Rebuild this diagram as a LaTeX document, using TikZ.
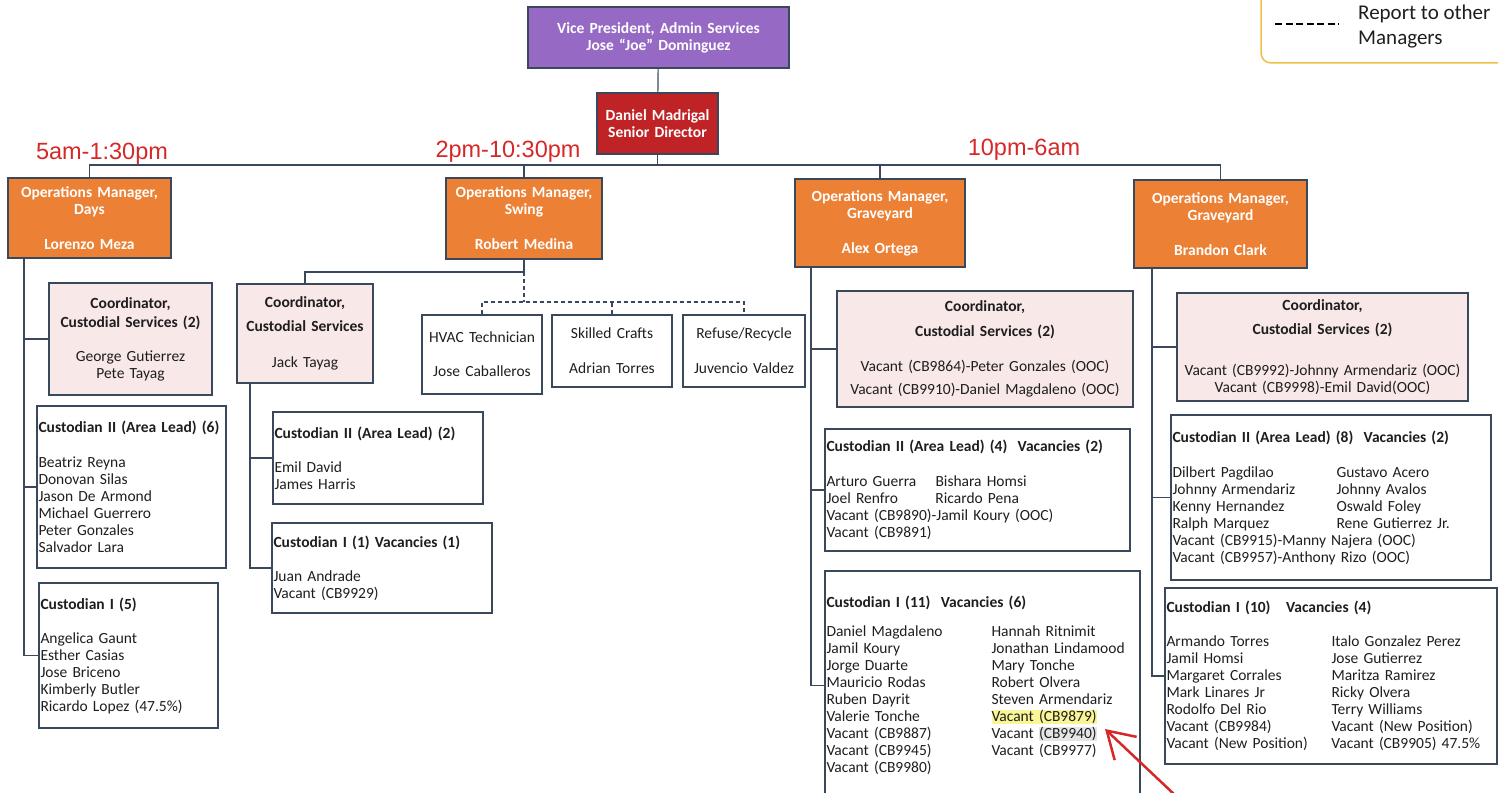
\documentclass[tikz,border=0pt]{standalone}
\usepackage{fontspec}
\setmainfont{Carlito}
\newfontfamily\shiftfont{Liberation Sans}
\usetikzlibrary{arrows.meta}
\definecolor{vpfill}{RGB}{150,106,196}
\definecolor{sdfill}{RGB}{192,35,38}
\definecolor{opsfill}{RGB}{236,128,52}
\definecolor{coordfill}{RGB}{249,232,232}
\definecolor{boxline}{RGB}{58,72,92}
\definecolor{shiftred}{RGB}{214,40,40}
\definecolor{legendline}{RGB}{240,190,70}
\definecolor{ink}{RGB}{30,30,30}
\definecolor{hlyellow}{RGB}{250,245,150}
\setlength{\fboxsep}{0pt}
\newcommand{\twocol}[3]{\makebox[#1][l]{#2}#3}
\begin{document}
\begin{tikzpicture}[x=1pt,y=-1pt,
    box/.style={draw=boxline,line width=1.2pt,inner xsep=1.5pt,inner ysep=0pt,
      font=\fontsize{15.5}{17}\selectfont,text=ink},
    headbox/.style={box,fill=#1,text=white,font=\fontsize{15.5}{17}\selectfont\bfseries,align=center},
    coordbox/.style={box,fill=coordfill,align=center},
    smallbox/.style={box,align=center},
    listbox/.style={box,align=left},
    link/.style={draw=boxline,line width=1.2pt},
    dotlink/.style={link,dash pattern=on 4pt off 3pt},
    shiftlabel/.style={text=shiftred,font=\fontsize{23.5}{26}\shiftfont,anchor=base,inner sep=0pt}]
    \useasboundingbox (0,0) rectangle (1498,792);

    % top of the chart
    \node[headbox=vpfill,text width=258pt,minimum height=61pt] (vp) at (658.5,37.5) {Vice President, Admin Services\\Jose “Joe” Dominguez};
    \node[headbox=sdfill,text width=118pt,minimum height=61pt] (sd) at (657.5,123.5) {Daniel Madrigal\\Senior Director};

    \node[shiftlabel] (daysshift) at (102,159) {5am-1:30pm};
    \node[shiftlabel] (swingshift) at (508,157) {2pm-10:30pm};
    \node[shiftlabel] (graveshift) at (1024,155) {10pm-6am};

    \node[headbox=opsfill,text width=160pt,minimum height=80pt] (days) at (89.5,218) {Operations Manager,\\Days\\[18pt]Lorenzo Meza};
    \node[headbox=opsfill,text width=153pt,minimum height=81pt] (swing) at (524,218.5) {Operations Manager,\\Swing\\[18pt]Robert Medina};
    \node[headbox=opsfill,text width=167pt,minimum height=88pt] (alex) at (880,223) {Operations Manager,\\Graveyard\\[18pt]Alex Ortega};
    \node[headbox=opsfill,text width=170pt,minimum height=88pt] (brandon) at (1220.5,224) {Operations Manager,\\Graveyard\\[18pt]Brandon Clark};

    % days
    \node[coordbox,text width=160pt,minimum height=112pt] (dcoord) at (130.5,339) {\textbf{Coordinator,}\\[2pt]\textbf{Custodial Services (2)}\\[17pt]George Gutierrez\\Pete Tayag};
    \node[listbox,text width=186pt,minimum height=162pt] (dcust2) at (131.5,487) {\textbf{Custodian II (Area Lead) (6)}\\[18pt]Beatriz Reyna\\Donovan Silas\\Jason De Armond\\Michael Guerrero\\Peter Gonzales\\Salvador Lara};
    \node[listbox,text width=176pt,minimum height=145pt] (dcust1) at (128.5,655.5) {\textbf{Custodian I (5)}\\[17pt]Angelica Gaunt\\Esther Casias\\Jose Briceno\\Kimberly Butler\\Ricardo Lopez (47.5\%)};

    % swing
    \node[coordbox,text width=133pt,minimum height=99pt] (scoord) at (305,333.5) {\textbf{Coordinator,}\\[7pt]\textbf{Custodial Services}\\[19pt]Jack Tayag};
    \node[listbox,text width=207pt,minimum height=92pt] (scust2) at (378,458) {\textbf{Custodian II (Area Lead) (2)}\\[17pt]Emil David\\James Harris};
    \node[listbox,text width=217pt,minimum height=90pt] (scust1) at (382,568) {\textbf{Custodian I (1) Vacancies (1)}\\[17pt]Juan Andrade\\Vacant (CB9929)};
    \node[smallbox,text width=117pt,minimum height=79pt] (hvac) at (482,354.5) {HVAC Technician\\[17pt]Jose Caballeros};
    \node[smallbox,text width=117pt,minimum height=72pt] (crafts) at (612,351) {Skilled Crafts\\[18pt]Adrian Torres};
    \node[smallbox,text width=119pt,minimum height=72pt] (refuse) at (744,351) {Refuse/Recycle\\[18pt]Juvencio Valdez};

    % graveyard, alex
    \node[coordbox,text width=293pt,minimum height=116pt] (acoord) at (985,349) {\textbf{Coordinator,}\\[8pt]\textbf{Custodial Services (2)}\\[18pt]Vacant (CB9864)-Peter Gonzales (OOC)\\[6pt]Vacant (CB9910)-Daniel Magdaleno (OOC)};
    \node[listbox,text width=302pt,minimum height=122pt] (acust2) at (977.5,490) {\textbf{Custodian II (Area Lead) (4)\ \ Vacancies (2)}\\[18pt]
      \twocol{109pt}{Arturo Guerra}{Bishara Homsi}\\
      \twocol{109pt}{Joel Renfro}{Ricardo Pena}\\
      Vacant (CB9890)-Jamil Koury (OOC)\\
      Vacant (CB9891)};
    \node[listbox,text width=312pt,minimum height=229pt] (acust1) at (982.5,685.5) {\textbf{Custodian I (11)\ \ Vacancies (6)}\\[12pt]
      \twocol{165pt}{Daniel Magdaleno}{Hannah Ritnimit}\\
      \twocol{165pt}{Jamil Koury}{Jonathan Lindamood}\\
      \twocol{165pt}{Jorge Duarte}{Mary Tonche}\\
      \twocol{165pt}{Mauricio Rodas}{Robert Olvera}\\
      \twocol{165pt}{Ruben Dayrit}{Steven Armendariz}\\
      \twocol{165pt}{Valerie Tonche}{\colorbox{hlyellow}{Vacant (CB9879)}}\\
      \twocol{165pt}{Vacant (CB9887)}{Vacant \colorbox{black!10}{(CB9940)}}\\
      \twocol{165pt}{Vacant (CB9945)}{Vacant (CB9977)}\\
      Vacant (CB9980)};

    % graveyard, brandon
    \node[coordbox,text width=288pt,minimum height=108pt] (bcoord) at (1322.5,347) {\textbf{Coordinator,}\\[7pt]\textbf{Custodial Services (2)}\\[24pt]Vacant (CB9992)-Johnny Armendariz (OOC)\\Vacant (CB9998)-Emil David(OOC)};
    \node[listbox,text width=317pt,minimum height=165pt] (bcust2) at (1331,497.5) {\textbf{Custodian II (Area Lead) (8)\ \ Vacancies (2)}\\[18pt]
      \twocol{164pt}{Dilbert Pagdilao}{Gustavo Acero}\\
      \twocol{164pt}{Johnny Armendariz}{Johnny Avalos}\\
      \twocol{164pt}{Kenny Hernandez}{Oswald Foley}\\
      \twocol{164pt}{Ralph Marquez}{Rene Gutierrez Jr.}\\
      Vacant (CB9915)-Manny Najera (OOC)\\
      Vacant (CB9957)-Anthony Rizo (OOC)};
    \node[listbox,text width=329pt,minimum height=176pt] (bcust1) at (1331,676) {\textbf{Custodian I (10)\ \ \ Vacancies (4)}\\[17pt]
      \twocol{165pt}{Armando Torres}{Italo Gonzalez Perez}\\
      \twocol{165pt}{Jamil Homsi}{Jose Gutierrez}\\
      \twocol{165pt}{Margaret Corrales}{Maritza Ramirez}\\
      \twocol{165pt}{Mark Linares Jr}{Ricky Olvera}\\
      \twocol{165pt}{Rodolfo Del Rio}{Terry Williams}\\
      \twocol{165pt}{Vacant (CB9984)}{Vacant (New Position)}\\
      \twocol{165pt}{Vacant (New Position)}{Vacant (CB9905) 47.5\%}};

    % legend
    \node[draw=legendline,line width=1.5pt,rounded corners=10pt,minimum width=260pt,minimum height=100pt] (legend) at (1391,13) {};
    \draw[line width=2.2pt,dash pattern=on 7pt off 3.5pt] (1275,24) -- (1339,24);
    \node[anchor=west,align=left,font=\fontsize{21}{25}\selectfont,text=ink,inner sep=0pt] (legendtext) at (1358,27) {Report to other\\Managers};

    % lines
    \coordinate (bus) at (0,165);
    \draw[link] (vp) -- (sd);
    \draw[link] (sd.south) -- (sd.south |- bus);
    \draw[link] (days.north) |- (brandon.north |- bus) -- (brandon.north);
    \draw[link] (swing.north) -- (swing.north |- bus);
    \draw[link] (alex.north) -- (alex.north |- bus);

    \coordinate (dtrunk) at (24,0);
    \draw[link] (dtrunk |- days.south) |- (dcust1.west);
    \draw[link] (dtrunk |- dcoord.west) -- (dcoord.west);
    \draw[link] (dtrunk |- dcust2.west) -- (dcust2.west);

    \coordinate (sbar) at (0,272);
    \coordinate (dbar) at (0,302);
    \coordinate (strunk) at (250,0);
    \draw[link] (swing.south) -- (swing.south |- sbar) -| (scoord.north);
    \draw[dotlink] (swing.south |- sbar) -- (swing.south |- dbar);
    \draw[dotlink] (hvac.north) -- (hvac.north |- dbar) -- (refuse.north |- dbar) -- (refuse.north);
    \draw[dotlink] (crafts.north) -- (crafts.north |- dbar);
    \draw[link] (strunk |- scoord.south) |- (scust1.west);
    \draw[link] (strunk |- scust2.west) -- (scust2.west);

    \coordinate (atrunk) at (811,0);
    \draw[link] (atrunk |- alex.south) |- (acust1.west);
    \draw[link] (atrunk |- acoord.west) -- (acoord.west);
    \draw[link] (atrunk |- acust2.west) -- (acust2.west);

    \coordinate (btrunk) at (1152,0);
    \draw[link] (btrunk |- brandon.south) |- (bcust1.west);
    \draw[link] (btrunk |- bcoord.west) -- (bcoord.west);
    \draw[link] (btrunk |- bcust2.west) -- (bcust2.west);

    % red arrow
    \coordinate (arrowtail) at (1176,796);
    \coordinate (arrowtip) at (1105,729);
    \draw[draw=shiftred,line width=2.5pt,-{Straight Barb[length=26pt,width=32pt]}] (arrowtail) -- (arrowtip);
\end{tikzpicture}
\end{document}
